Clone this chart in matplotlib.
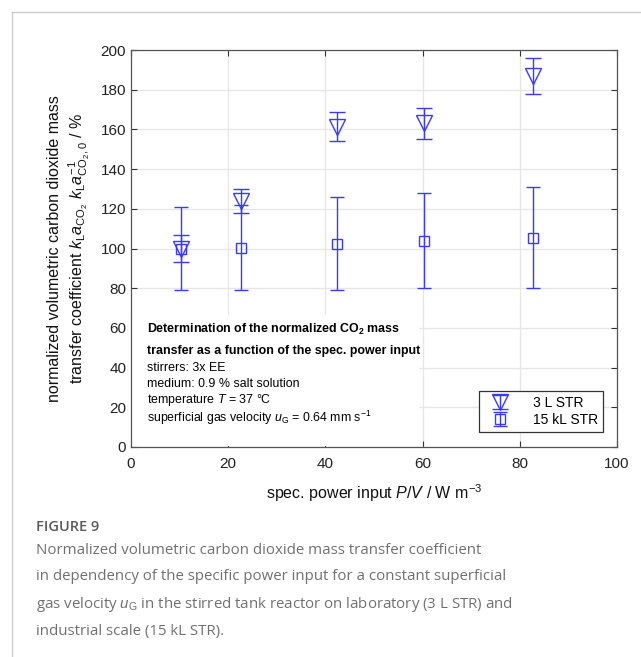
import numpy as np
import matplotlib
matplotlib.use('Agg')
import matplotlib.pyplot as plt
from matplotlib.lines import Line2D

plt.rcParams['font.family'] = ['Liberation Sans', 'DejaVu Sans']
plt.rcParams['mathtext.fontset'] = 'custom'
plt.rcParams['mathtext.rm'] = 'Liberation Sans'
plt.rcParams['mathtext.it'] = 'Liberation Sans:italic'
plt.rcParams['mathtext.bf'] = 'Liberation Sans:bold'

# data
pv_3l = [10.2, 22.7, 42.3, 60.2, 82.7]
kla_3l = [100, 124, 161, 163, 187]
lo_3l = [93, 118, 154, 155, 178]
hi_3l = [107, 130, 169, 171, 196]

pv_15kl = [10.2, 22.7, 42.3, 60.2, 82.7]
kla_15kl = [99.5, 100.5, 102.5, 104, 105.5]
lo_15kl = [79, 79, 79, 80, 80]
hi_15kl = [121, 122, 126, 128, 131]

blue = '#3a3aff'

fig = plt.figure(figsize=(6.41, 6.57), dpi=100)
ax = fig.add_axes([131/641, 1-447/657, 486/641, 397/657])

e1 = np.array([np.subtract(kla_3l, lo_3l), np.subtract(hi_3l, kla_3l)])
e2 = np.array([np.subtract(kla_15kl, lo_15kl), np.subtract(hi_15kl, kla_15kl)])

ax.errorbar(pv_15kl, kla_15kl, yerr=e2, fmt='s', mfc='none', mec=blue, ms=7,
            ecolor=blue, elinewidth=1.0, capsize=5, capthick=1.0, mew=1.0, label='15 kL STR', zorder=3)
ax.errorbar(pv_3l, kla_3l, yerr=e1, fmt='v', mfc='none', mec=blue, ms=11,
            ecolor=blue, elinewidth=1.0, capsize=6, capthick=1.0, mew=1.0, label='3 L STR', zorder=3)

ax.set_xlim(0, 100)
ax.set_ylim(0, 200)
ax.set_xticks(np.arange(0, 101, 20))
ax.set_yticks(np.arange(0, 201, 20))
ax.grid(True, color='#e6e6e6', linewidth=0.9)
ax.set_axisbelow(True)
ax.tick_params(direction='in', top=True, right=True, length=4, labelsize=11,
               colors='#333333', labelcolor='#222222')
ax.tick_params(axis='x', pad=7)
for s in ax.spines.values():
    s.set_color('#555555')
    s.set_linewidth(0.9)

ax.set_xlabel(r'spec. power input $\mathit{P/V}$ / W m$^{-3}$', fontsize=11.5, color='#111111', labelpad=8)
ax.set_ylabel('normalized volumetric carbon dioxide mass\n'
              r'transfer coefficient $\mathit{k}_\mathrm{L}\mathit{a}_{\mathrm{CO}_2}$ '
              r'$\mathit{k}_\mathrm{L}\mathit{a}^{-1}_{\mathrm{CO}_2\mathrm{,0}}$ / %',
              fontsize=11.5, color='#111111', labelpad=6, linespacing=1.3)

# info box
ax.add_patch(plt.Rectangle((0.3, 0.5), 59, 66, facecolor='white', edgecolor='none', zorder=1))
tx = 0.033
fs = 8.9
ax.text(tx, 0.297, r'Determination of the normalized CO$_{\mathbf{2}}$ mass', transform=ax.transAxes,
        fontsize=fs, fontweight='bold', va='center', zorder=4)
ax.text(tx, 0.242, 'transfer as a function of the spec. power input', transform=ax.transAxes,
        fontsize=fs, fontweight='bold', va='center', zorder=4)
ax.text(tx, 0.199, 'stirrers: 3x EE', transform=ax.transAxes, fontsize=fs, va='center', zorder=4)
ax.text(tx, 0.159, 'medium: 0.9 % salt solution', transform=ax.transAxes, fontsize=fs, va='center', zorder=4)
ax.text(tx, 0.118, r'temperature $\mathit{T}$ = 37 °C', transform=ax.transAxes, fontsize=fs, va='center', zorder=4)
ax.text(tx, 0.073, r'superficial gas velocity $\mathit{u}_\mathrm{G}$ = 0.64 mm s$^{-1}$',
        transform=ax.transAxes, fontsize=fs, va='center', zorder=4)

h, l = ax.get_legend_handles_labels()
leg = ax.legend(h[::-1], l[::-1], loc='lower right', bbox_to_anchor=(0.971, 0.038), borderaxespad=0,
                fontsize=10, frameon=True, fancybox=False, edgecolor='#333333', framealpha=1,
                handlelength=2.2, borderpad=0.35, labelspacing=0.2, handletextpad=1.3)
leg.get_frame().set_linewidth(0.9)

# page border
fig.add_artist(Line2D([12/641, 12/641], [0, 1-12/657], color='#cccccc', lw=1))
fig.add_artist(Line2D([12/641, 1], [1-12/657, 1-12/657], color='#cccccc', lw=1))

cap = dict(family=['Open Sans', 'DejaVu Sans'], color='#707070')
fig.text(36/641, 1-527/657, 'FIGURE 9', fontsize=10.5, va='center', family=['Open Sans', 'DejaVu Sans'],
         color='#5a5a5a', fontweight='semibold')
lines = ['Normalized volumetric carbon dioxide mass transfer coefficient',
         'in dependency of the specific power input for a constant superficial',
         r'gas velocity $\mathit{u}_\mathrm{G}$ in the stirred tank reactor on laboratory (3 L STR) and',
         'industrial scale (15 kL STR).']
ys = [550, 577, 604, 631]
for t, y in zip(lines, ys):
    fig.text(36/641, 1-y/657, t, fontsize=10.8, va='center', **cap)

fig.savefig('out.png', dpi=100)
